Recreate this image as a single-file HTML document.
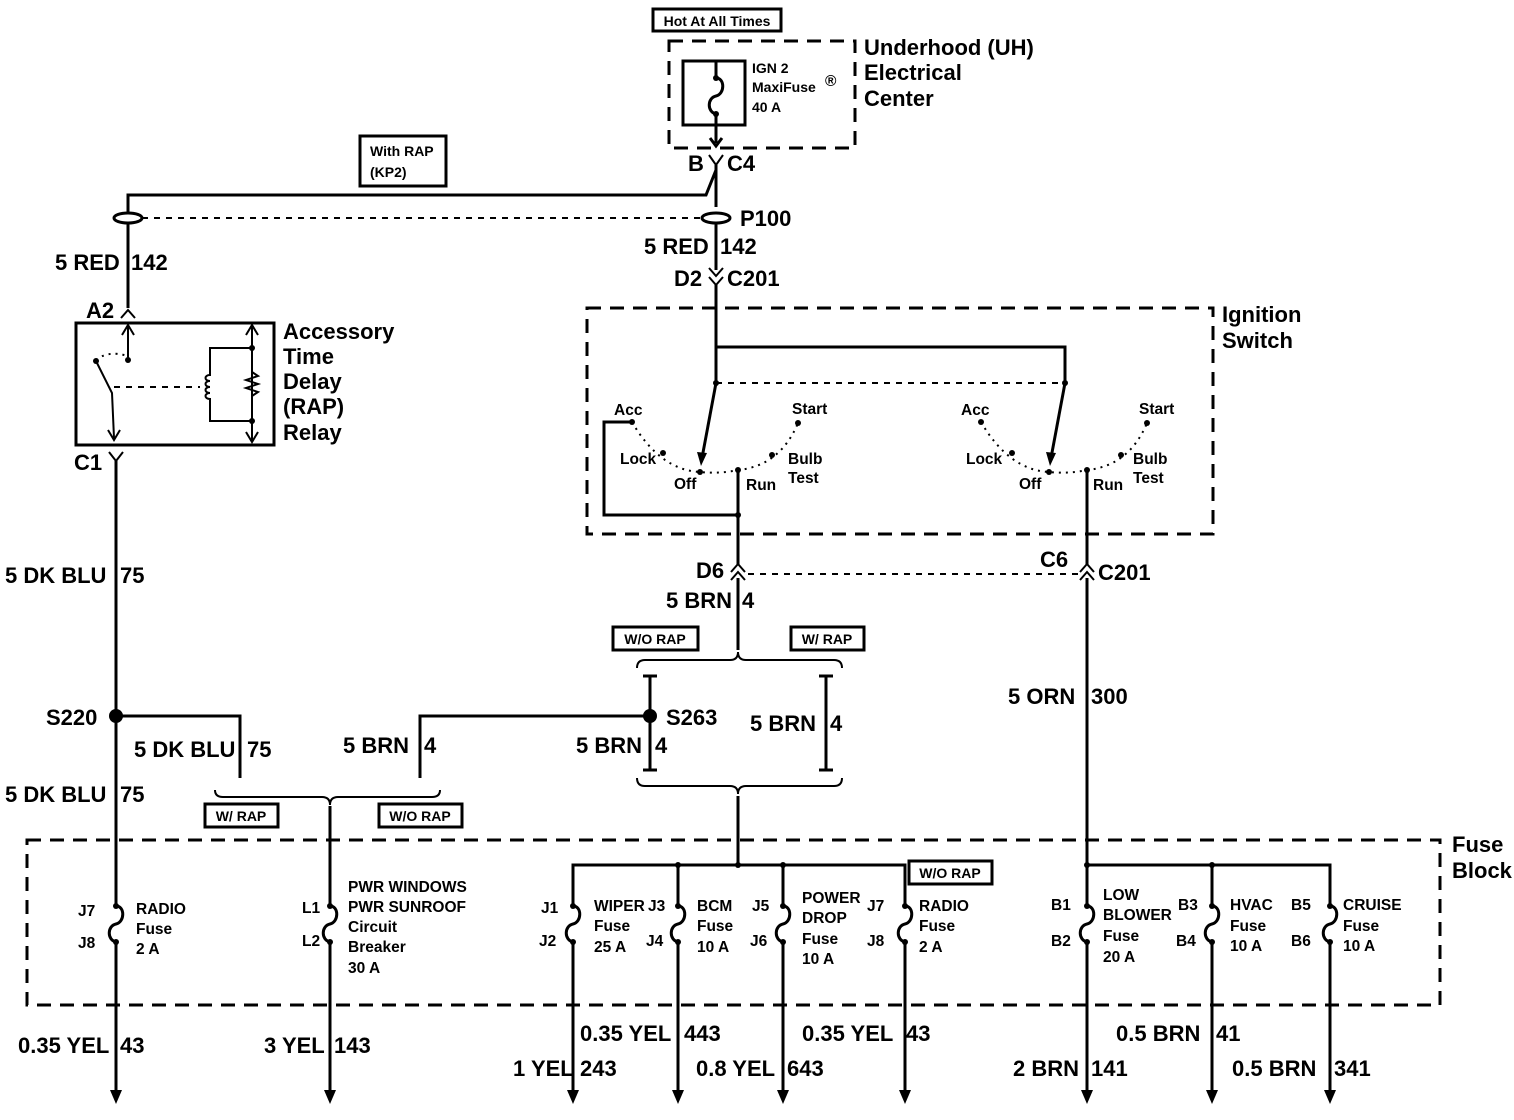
<!DOCTYPE html>
<html><head><meta charset="utf-8"><style>
html,body{margin:0;padding:0;background:#fff;}
svg{display:block;font-family:"Liberation Sans",Arial,sans-serif;font-weight:bold;}
.w{stroke:#000;stroke-width:3;fill:none;}
.t{stroke:#000;stroke-width:2;fill:none;}
.d{stroke:#000;stroke-width:3;fill:none;stroke-dasharray:14 9;}
.dd{stroke:#000;stroke-width:2;fill:none;stroke-dasharray:6 6;}
.dot{stroke:#000;stroke-width:2;fill:none;stroke-dasharray:2 5;}
.L{font-size:22px;}
.S{font-size:15.5px;}
.M{font-size:22px;font-weight:bold;}
</style></head><body>
<svg width="1514" height="1120" viewBox="0 0 1514 1120" xmlns="http://www.w3.org/2000/svg">

<!-- Hot at all times -->
<rect x="653" y="9" width="128" height="22" class="w"/>
<text x="717" y="26" class="S" text-anchor="middle" style="font-size:14px">Hot At All Times</text>
<!-- UH box -->
<rect x="669" y="41" width="186" height="107" class="d"/>
<rect x="683" y="61" width="62" height="64" class="w"/>
<path d="M716 61 V78 c9 0 9 16 0 18 c-9 2 -9 16 0 18 V143" class="w"/>
<circle cx="716" cy="78" r="3"/><circle cx="716" cy="114" r="3"/>
<path d="M710 138 L716 146 L722 138" class="w"/>
<text x="752" y="73" class="S" style="font-size:14px">IGN 2</text>
<text x="752" y="92" class="S" style="font-size:14px">MaxiFuse</text>
<text x="825" y="86" class="S">®</text>
<text x="752" y="112" class="S" style="font-size:14px">40 A</text>
<text x="864" y="55" class="M">Underhood (UH)</text>
<text x="864" y="80" class="M">Electrical</text>
<text x="864" y="106" class="M">Center</text>

<!-- C4 -->
<text x="688" y="171" class="L">B</text>
<path d="M709 155 L716 165 L723 155" class="t"/>
<text x="727" y="171" class="L">C4</text>
<path d="M716 165 V207" class="w"/>
<path d="M716 170 L706 195 H128 V212" class="w"/>

<!-- With RAP -->
<rect x="360" y="136" width="86" height="50" class="w"/>
<text x="370" y="156" class="S" style="font-size:14px">With RAP</text>
<text x="370" y="177" class="S" style="font-size:14px">(KP2)</text>

<!-- splices P100 -->
<ellipse cx="128" cy="218" rx="14" ry="5" class="w"/>
<ellipse cx="716" cy="218" rx="14" ry="5" class="w"/>
<path d="M142 218 H700" class="dd"/>
<text x="740" y="226" class="L">P100</text>
<path d="M128 224 V308" class="w"/>
<path d="M716 224 V270" class="w"/>
<text x="55" y="270" class="L">5 RED</text><text x="131" y="270" class="L">142</text>
<text x="644" y="254" class="L">5 RED</text><text x="720" y="254" class="L">142</text>

<!-- D2 C201 -->
<text x="674" y="286" class="L">D2</text>
<path d="M709 268 L716 276 L723 268 M709 277 L716 285 L723 277" class="t"/>
<text x="727" y="286" class="L">C201</text>
<path d="M716 285 V383 M716 347 H1065 V383" class="w"/>

<!-- Ignition switch -->
<rect x="587" y="308" width="626" height="226" class="d"/>
<text x="1222" y="322" class="M">Ignition</text>
<text x="1222" y="348" class="M">Switch</text>
<path d="M716 383 H1065" class="dd"/>
<g>
<circle cx="716" cy="383" r="3"/>
<path d="M716 383 L702 458" class="w"/>
<path d="M697 452 L701 466 L707 453 Z" fill="#000"/>
<path d="M632 422 Q660 470 700 472 Q720 474 738 470 Q780 466 798 423" class="dot"/>
<circle cx="632" cy="422" r="3"/><circle cx="663" cy="453" r="3"/><circle cx="700" cy="472" r="3"/><circle cx="738" cy="470" r="3"/><circle cx="772" cy="455" r="3"/><circle cx="798" cy="423" r="3"/>
</g>
<text x="614" y="415" class="S">Acc</text>
<text x="620" y="464" class="S">Lock</text>
<text x="674" y="489" class="S">Off</text>
<text x="746" y="490" class="S">Run</text>
<text x="788" y="464" class="S">Bulb</text>
<text x="788" y="483" class="S">Test</text>
<text x="792" y="414" class="S">Start</text>
<path d="M632 422 H604 V515 H738 M738 470 V565" class="w"/>
<circle cx="738" cy="515" r="3"/>
<g transform="translate(349,0)">
<circle cx="716" cy="383" r="3"/>
<path d="M716 383 L702 458" class="w"/>
<path d="M697 452 L701 466 L707 453 Z" fill="#000"/>
<path d="M632 422 Q660 470 700 472 Q720 474 738 470 Q780 466 798 423" class="dot"/>
<circle cx="632" cy="422" r="3"/><circle cx="663" cy="453" r="3"/><circle cx="700" cy="472" r="3"/><circle cx="738" cy="470" r="3"/><circle cx="772" cy="455" r="3"/><circle cx="798" cy="423" r="3"/>
<text x="612" y="415" class="S">Acc</text>
<text x="617" y="464" class="S">Lock</text>
<text x="670" y="489" class="S">Off</text>
<text x="744" y="490" class="S">Run</text>
<text x="784" y="464" class="S">Bulb</text>
<text x="784" y="483" class="S">Test</text>
<text x="790" y="414" class="S">Start</text>
</g>
<path d="M1087 470 V565" class="w"/>

<!-- D6 / C6 -->
<text x="696" y="578" class="L">D6</text>
<path d="M731 572 L738 564 L745 572 M731 580 L738 572 L745 580" class="t"/>
<path d="M748 574 H1078" class="dd"/>
<text x="1040" y="567" class="L">C6</text>
<path d="M1080 572 L1087 564 L1094 572 M1080 580 L1087 572 L1094 580" class="t"/>
<text x="1098" y="580" class="L">C201</text>
<text x="666" y="608" class="L">5 BRN</text><text x="742" y="608" class="L">4</text>
<path d="M738 578 V650" class="w"/>
<path d="M1087 578 V860" class="w"/>
<text x="1008" y="704" class="L">5 ORN</text><text x="1091" y="704" class="L">300</text>

<rect x="613" y="627" width="85" height="23" class="w"/>
<text x="655" y="644" class="S" text-anchor="middle" style="font-size:14px">W/O RAP</text>
<rect x="791" y="627" width="73" height="23" class="w"/>
<text x="827" y="644" class="S" text-anchor="middle" style="font-size:14px">W/ RAP</text>

<!-- braces -->
<path d="M637 668 Q637 660 645 660 H730 Q738 660 738 652 Q738 660 746 660 H834 Q842 660 842 668" class="t"/>
<path d="M637 778 Q637 786 645 786 H730 Q738 786 738 794 Q738 786 746 786 H834 Q842 786 842 778" class="t"/>
<path d="M738 796 V865" class="w"/>
<path d="M643 676 H657 M650 676 V770 M643 770 H657" class="w"/>
<path d="M819 676 H833 M826 676 V770 M819 770 H833" class="w"/>
<circle cx="650" cy="716" r="7"/>
<text x="666" y="725" class="L">S263</text>
<text x="576" y="753" class="L">5 BRN</text><text x="655" y="753" class="L">4</text>
<text x="750" y="731" class="L">5 BRN</text><text x="830" y="731" class="L">4</text>
<path d="M650 716 H420 V778" class="w"/>
<text x="343" y="753" class="L">5 BRN</text><text x="424" y="753" class="L">4</text>

<!-- RAP relay -->
<text x="86" y="318" class="L">A2</text>
<path d="M121 318 L128 310 L135 318" class="t"/>
<rect x="76" y="323" width="198" height="122" class="w"/>
<path d="M128 325 V360 M122 335 L128 325 L134 335" class="t"/>
<circle cx="128" cy="360" r="3"/>
<path d="M96 360 Q108 350 128 356" class="dot"/>
<circle cx="96" cy="361" r="3"/>
<path d="M96 361 L112 393 L114 438 M108 430 L114 440 L120 430" class="t"/>
<path d="M114 387 H200" class="dd"/>
<path d="M252 325 V442 M246 335 L252 325 L258 335 M246 432 L252 442 L258 432" class="t"/>
<path d="M252 348 H210 V375 c-6 0 -6 6 0 6 c-6 0 -6 6 0 6 c-6 0 -6 6 0 6 c-6 0 -6 6 0 6 V421 H252" class="t"/>
<path d="M252 372 l6 4 l-12 4 l12 4 l-12 4 l12 4 l-6 4" class="t"/>
<circle cx="252" cy="348" r="3"/><circle cx="252" cy="421" r="3"/>
<text x="283" y="339" class="M">Accessory</text>
<text x="283" y="364" class="M">Time</text>
<text x="283" y="389" class="M">Delay</text>
<text x="283" y="414" class="M">(RAP)</text>
<text x="283" y="440" class="M">Relay</text>
<text x="74" y="470" class="L">C1</text>
<path d="M109 452 L116 461 L123 452" class="t"/>
<path d="M116 461 V1090" class="w"/>
<text x="5" y="583" class="L">5 DK BLU</text><text x="120" y="583" class="L">75</text>
<circle cx="116" cy="716" r="7"/>
<text x="46" y="725" class="L">S220</text>
<path d="M116 716 H240 V778" class="w"/>
<text x="134" y="757" class="L">5 DK BLU</text><text x="247" y="757" class="L">75</text>
<text x="5" y="802" class="L">5 DK BLU</text><text x="120" y="802" class="L">75</text>
<path d="M215 790 Q215 797 223 797 H322 Q330 797 330 805 Q330 797 338 797 H432 Q440 797 440 790" class="t"/>
<path d="M330 806 V1090" class="w"/>
<rect x="205" y="804" width="73" height="23" class="w"/>
<text x="241" y="821" class="S" text-anchor="middle" style="font-size:14px">W/ RAP</text>
<rect x="379" y="804" width="83" height="23" class="w"/>
<text x="420" y="821" class="S" text-anchor="middle" style="font-size:14px">W/O RAP</text>

<!-- Fuse block -->
<rect x="27" y="840" width="1413" height="165" class="d"/>
<text x="1452" y="852" class="M">Fuse</text>
<text x="1452" y="878" class="M">Block</text>
<path d="M573 1090 V865 H905 V1090 M678 865 V1090 M783 865 V1090" class="w"/>
<path d="M1087 860 V1090 M1087 865 H1330 V1090 M1212 865 V1090" class="w"/>
<circle cx="738" cy="865" r="3"/><circle cx="678" cy="865" r="3"/><circle cx="783" cy="865" r="3"/>
<circle cx="1087" cy="865" r="3"/><circle cx="1212" cy="865" r="3"/>
<rect x="909" y="861" width="83" height="23" class="w"/>
<text x="950" y="878" class="S" text-anchor="middle" style="font-size:14px">W/O RAP</text>

<g fill="#fff">
<rect x="108" y="904" width="18" height="40"/><rect x="322" y="904" width="18" height="40"/>
<rect x="565" y="904" width="18" height="40"/><rect x="670" y="904" width="18" height="40"/>
<rect x="775" y="904" width="18" height="40"/><rect x="897" y="904" width="18" height="40"/>
<rect x="1079" y="904" width="18" height="40"/><rect x="1204" y="904" width="18" height="40"/><rect x="1322" y="904" width="18" height="40"/>
</g>
<g class="w">
<path d="M116 906 c9 0 9 16 0 18 c-9 2 -9 16 0 18"/>
<path d="M330 906 c9 0 9 16 0 18 c-9 2 -9 16 0 18"/>
<path d="M573 906 c9 0 9 16 0 18 c-9 2 -9 16 0 18"/>
<path d="M678 906 c9 0 9 16 0 18 c-9 2 -9 16 0 18"/>
<path d="M783 906 c9 0 9 16 0 18 c-9 2 -9 16 0 18"/>
<path d="M905 906 c9 0 9 16 0 18 c-9 2 -9 16 0 18"/>
<path d="M1087 906 c9 0 9 16 0 18 c-9 2 -9 16 0 18"/>
<path d="M1212 906 c9 0 9 16 0 18 c-9 2 -9 16 0 18"/>
<path d="M1330 906 c9 0 9 16 0 18 c-9 2 -9 16 0 18"/>
</g>
<g>
<circle cx="116" cy="906" r="3"/><circle cx="116" cy="942" r="3"/>
<circle cx="330" cy="906" r="3"/><circle cx="330" cy="942" r="3"/>
<circle cx="573" cy="906" r="3"/><circle cx="573" cy="942" r="3"/>
<circle cx="678" cy="906" r="3"/><circle cx="678" cy="942" r="3"/>
<circle cx="783" cy="906" r="3"/><circle cx="783" cy="942" r="3"/>
<circle cx="905" cy="906" r="3"/><circle cx="905" cy="942" r="3"/>
<circle cx="1087" cy="906" r="3"/><circle cx="1087" cy="942" r="3"/>
<circle cx="1212" cy="906" r="3"/><circle cx="1212" cy="942" r="3"/>
<circle cx="1330" cy="906" r="3"/><circle cx="1330" cy="942" r="3"/>
</g>
<g class="S">
<text x="78" y="916">J7</text><text x="78" y="948">J8</text>
<text x="136" y="914">RADIO</text><text x="136" y="934">Fuse</text><text x="136" y="954">2 A</text>
<text x="302" y="913">L1</text><text x="302" y="946">L2</text>
<text x="348" y="892">PWR WINDOWS</text><text x="348" y="912">PWR SUNROOF</text><text x="348" y="932">Circuit</text><text x="348" y="952">Breaker</text><text x="348" y="973">30 A</text>
<text x="541" y="913">J1</text><text x="539" y="946">J2</text>
<text x="594" y="911">WIPER</text><text x="594" y="931">Fuse</text><text x="594" y="952">25 A</text>
<text x="648" y="911">J3</text><text x="646" y="946">J4</text>
<text x="697" y="911">BCM</text><text x="697" y="931">Fuse</text><text x="697" y="952">10 A</text>
<text x="752" y="911">J5</text><text x="750" y="946">J6</text>
<text x="802" y="903">POWER</text><text x="802" y="923">DROP</text><text x="802" y="944">Fuse</text><text x="802" y="964">10 A</text>
<text x="867" y="911">J7</text><text x="867" y="946">J8</text>
<text x="919" y="911">RADIO</text><text x="919" y="931">Fuse</text><text x="919" y="952">2 A</text>
<text x="1051" y="910">B1</text><text x="1051" y="946">B2</text>
<text x="1103" y="900">LOW</text><text x="1103" y="920">BLOWER</text><text x="1103" y="941">Fuse</text><text x="1103" y="962">20 A</text>
<text x="1178" y="910">B3</text><text x="1176" y="946">B4</text>
<text x="1230" y="910">HVAC</text><text x="1230" y="931">Fuse</text><text x="1230" y="951">10 A</text>
<text x="1291" y="910">B5</text><text x="1291" y="946">B6</text>
<text x="1343" y="910">CRUISE</text><text x="1343" y="931">Fuse</text><text x="1343" y="951">10 A</text>
</g>

<g fill="#000">
<path d="M110 1090 L116 1104 L122 1090 Z"/><path d="M324 1090 L330 1104 L336 1090 Z"/>
<path d="M567 1090 L573 1104 L579 1090 Z"/><path d="M672 1090 L678 1104 L684 1090 Z"/>
<path d="M777 1090 L783 1104 L789 1090 Z"/><path d="M899 1090 L905 1104 L911 1090 Z"/>
<path d="M1081 1090 L1087 1104 L1093 1090 Z"/><path d="M1206 1090 L1212 1104 L1218 1090 Z"/>
<path d="M1324 1090 L1330 1104 L1336 1090 Z"/>
</g>
<g class="L">
<text x="18" y="1053">0.35 YEL</text><text x="120" y="1053">43</text>
<text x="264" y="1053">3 YEL</text><text x="334" y="1053">143</text>
<text x="580" y="1041">0.35 YEL</text><text x="684" y="1041">443</text>
<text x="802" y="1041">0.35 YEL</text><text x="906" y="1041">43</text>
<text x="513" y="1076">1 YEL</text><text x="580" y="1076">243</text>
<text x="696" y="1076">0.8 YEL</text><text x="787" y="1076">643</text>
<text x="1116" y="1041">0.5 BRN</text><text x="1216" y="1041">41</text>
<text x="1013" y="1076">2 BRN</text><text x="1091" y="1076">141</text>
<text x="1232" y="1076">0.5 BRN</text><text x="1334" y="1076">341</text>
</g>
</svg>
</body></html>
